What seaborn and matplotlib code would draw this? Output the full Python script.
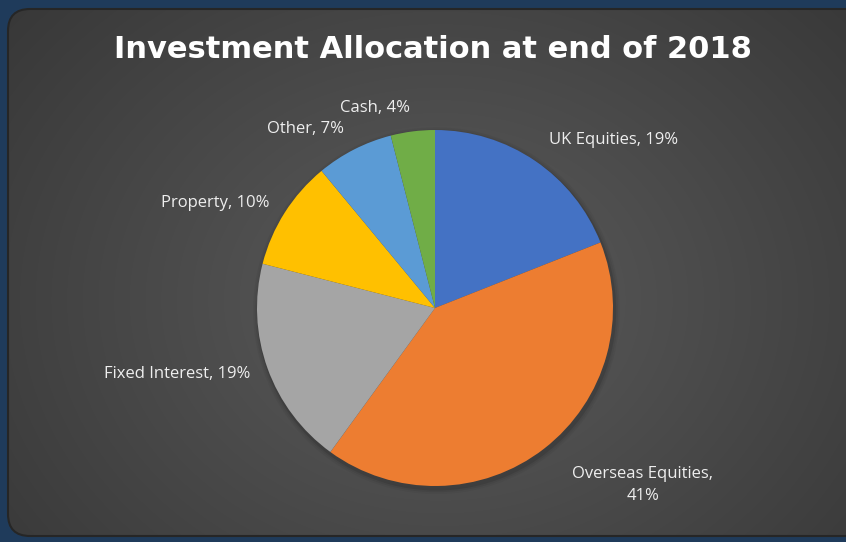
import numpy as np
import matplotlib
matplotlib.use("Agg")
import matplotlib.pyplot as plt
import seaborn as sns
from matplotlib.patches import FancyBboxPatch

# ==========================================================
# DATA
# ==========================================================

categories = ["UK Equities", "Overseas Equities", "Fixed Interest",
              "Property", "Other", "Cash"]
shares = [19, 41, 19, 10, 7, 4]
label_texts = ["UK Equities, 19%", "Overseas Equities,\n41%",
               "Fixed Interest, 19%", "Property, 10%", "Other, 7%", "Cash, 4%"]
title = "Investment Allocation at end of 2018"

colors = ["#4472C4", "#ED7D31", "#A5A5A5", "#FFC000", "#5B9BD5", "#70AD47"]
label_dist = [1.14, 1.26, 1.1, 1.1, 1.13, 1.13]

# ==========================================================
# STYLE
# ==========================================================

sns.set_theme(style="white")
plt.rcParams["font.family"] = ["Open Sans", "DejaVu Sans"]

W, H = 846, 542
fig = plt.figure(figsize=(W / 100, H / 100), dpi=100)
fig.patch.set_facecolor("#1f3b5b")

# ==========================================================
# BACKGROUND PANEL (pixel coordinates)
# ==========================================================

bg = fig.add_axes([0, 0, 1, 1])
bg.set_xlim(0, W)
bg.set_ylim(H, 0)
bg.axis("off")

panel = FancyBboxPatch((8, 9), W + 20, 527,
                       boxstyle="round,pad=0,rounding_size=22",
                       facecolor="none", edgecolor="#262626", linewidth=1.5,
                       zorder=3)
bg.add_patch(panel)

yy, xx = np.mgrid[0:H, 0:W]
dist = np.sqrt(((xx - 440) / 520) ** 2 + ((yy - 300) / 420) ** 2)
shade = np.clip(0.36 - 0.13 * dist, 0.22, 0.36)
rgb = np.dstack([shade, shade, shade])
img = bg.imshow(rgb, extent=(0, W, H, 0), zorder=1, interpolation="bilinear")
img.set_clip_path(panel)

# ==========================================================
# PIE
# ==========================================================

cx, cy, r = 435, 308, 178
ax = fig.add_axes([0, 0, 1, 1])
ax.patch.set_alpha(0)

# soft shadow under the pie
for k, a in enumerate([0.09, 0.06, 0.04]):
    ax.add_patch(plt.Circle((0.008, -0.015), 1.0 + 0.01 * (k + 1),
                            color="black", alpha=a, lw=0, zorder=0))

wedges, texts = ax.pie(
    shares,
    labels=label_texts,
    colors=colors,
    startangle=90,
    counterclock=False,
    wedgeprops=dict(linewidth=0),
    textprops=dict(color="#eeeeee", fontsize=12),
)

for w, t, d in zip(wedges, texts, label_dist):
    ang = np.deg2rad((w.theta1 + w.theta2) / 2)
    x, y = d * np.cos(ang), d * np.sin(ang)
    t.set_position((x, y))
    t.set_ha("left" if x > 0 else "right")
    t.set_va("center")
    if "\n" in t.get_text():
        t.set_multialignment("center")
        t.set_linespacing(1.5)

ax.set_xlim((0 - cx) / r, (W - cx) / r)
ax.set_ylim((cy - H) / r, cy / r)
ax.axis("off")

fig.text(0.512, 1 - 49 / H, title, ha="center", va="center",
         fontsize=22, fontweight="bold", color="white",
         family=["DejaVu Sans"])

plt.savefig("out.png", dpi=100, facecolor=fig.get_facecolor())
plt.close()
